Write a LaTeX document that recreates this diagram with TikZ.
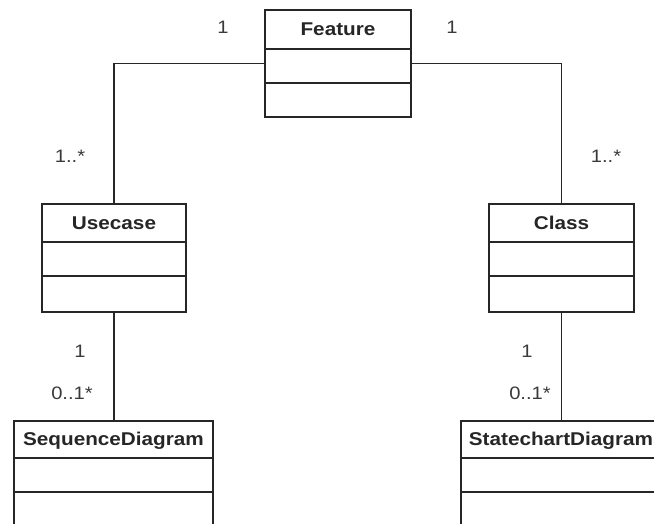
\documentclass[tikz,border=0pt]{standalone}
\usepackage{fontspec}
\setmainfont{Liberation Sans}
\newfontfamily\umlfont[FakeStretch=1.12]{Liberation Sans}
\usetikzlibrary{calc}
\definecolor{ink}{HTML}{262626}
\definecolor{labelink}{HTML}{3A3A3A}
\tikzset{
  classbox/.style={draw=ink, line width=1.7pt, rectangle, inner sep=0pt, fill=white},
  classname/.style={anchor=base, inner sep=0pt, text=ink, font=\umlfont\fontsize{18.5}{20}\selectfont\bfseries},
  mult/.style={inner sep=0pt, text=labelink, font=\umlfont\fontsize{18}{20}\selectfont},
  assoc/.style={draw=ink, line width=1.6pt},
  divider/.style={draw=ink, line width=1.7pt}
}
\begin{document}
\begin{tikzpicture}[x=1pt, y=-1pt]
  \clip (0,0) rectangle (654,524);
  \fill[white] (0,0) rectangle (654,524);

  % class boxes
  \node[classbox, minimum width=146pt, minimum height=107pt] (feature) at (338,63.5) {};
  \node[classbox, minimum width=144pt, minimum height=108pt] (usecase) at (114,258) {};
  \node[classbox, minimum width=145pt, minimum height=108pt] (class) at (561.5,258) {};
  \node[classbox, minimum width=199pt, minimum height=120pt] (seq) at (113.5,481) {};
  \node[classbox, minimum width=200pt, minimum height=120pt] (state) at (561,481) {};

  % class names
  \node[classname] (featurename) at ($(feature.north)+(0,26.5)$) {Feature};
  \node[classname] (usecasename) at ($(usecase.north)+(0,26)$) {Usecase};
  \node[classname] (classname) at ($(class.north)+(0,26)$) {Class};
  \node[classname] (seqname) at ($(seq.north)+(0,25.5)$) {SequenceDiagram};
  \node[classname] (statename) at ($(state.north)+(0,25.5)$) {StatechartDiagram};

  % compartment dividers
  \foreach \n/\a/\b in {feature/40/74, usecase/39/73, class/39/73, seq/38/72, state/38/72} {
    \draw[divider] ($(\n.north west)+(0,\a)$) -- ($(\n.north east)+(0,\a)$);
    \draw[divider] ($(\n.north west)+(0,\b)$) -- ($(\n.north east)+(0,\b)$);
  }

  % associations
  \draw[assoc] (feature.west) -| (usecase.north);
  \draw[assoc] (feature.east) -| (class.north);
  \draw[assoc] (usecase.south) -- (usecase.south |- seq.north);
  \draw[assoc] (class.south) -- (class.south |- state.north);

  % multiplicities
  \node[mult] (m1) at (223,27) {1};
  \node[mult] (m2) at (452,27) {1};
  \node[mult] (m3) at (70,156) {1..*};
  \node[mult] (m4) at (606,156) {1..*};
  \node[mult] (m5) at (80,351) {1};
  \node[mult] (m6) at (72,393) {0..1*};
  \node[mult] (m7) at (527,351) {1};
  \node[mult] (m8) at (530,393) {0..1*};
\end{tikzpicture}
\end{document}
